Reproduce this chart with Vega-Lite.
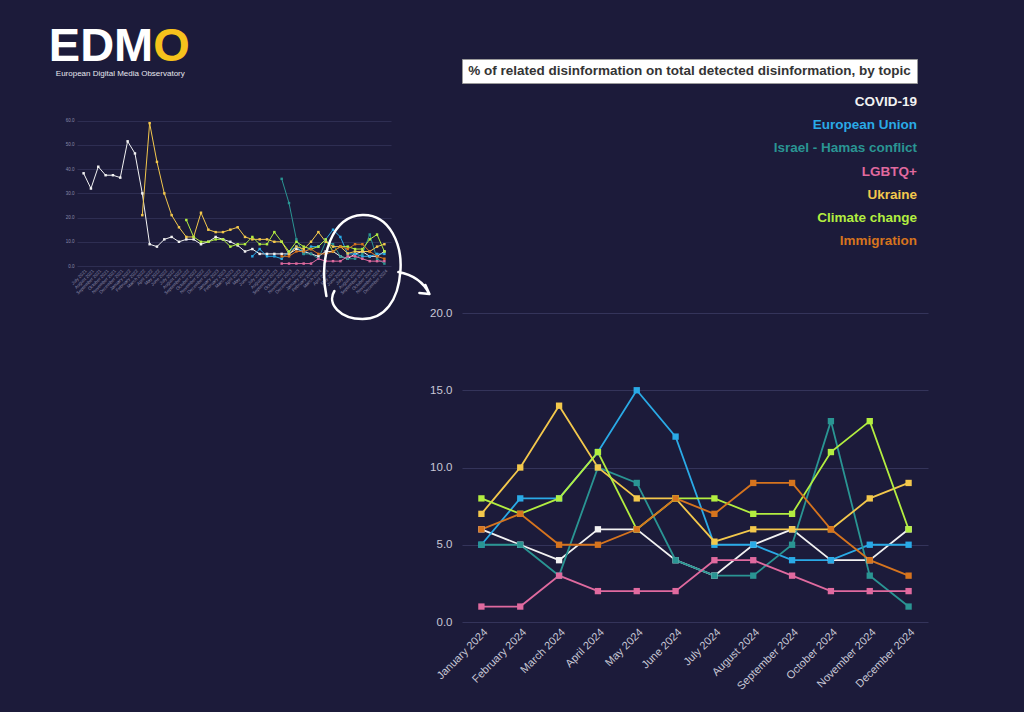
{
  "$schema": "https://vega.github.io/schema/vega-lite/v6.json",
  "background": "#1c1b3a",
  "padding": {"left": 48, "top": 22, "right": 96, "bottom": 23},
  "autosize": {"type": "pad"},
  "datasets": {
    "series": [
      {"topic":"COVID-19","month":"July 2021","value":38.3},
      {"topic":"COVID-19","month":"August 2021","value":32},
      {"topic":"COVID-19","month":"September 2021","value":41},
      {"topic":"COVID-19","month":"October 2021","value":37.5},
      {"topic":"COVID-19","month":"November 2021","value":37.5},
      {"topic":"COVID-19","month":"December 2021","value":36.5},
      {"topic":"COVID-19","month":"January 2022","value":51.5},
      {"topic":"COVID-19","month":"February 2022","value":46.5},
      {"topic":"COVID-19","month":"March 2022","value":30},
      {"topic":"COVID-19","month":"April 2022","value":9},
      {"topic":"COVID-19","month":"May 2022","value":8},
      {"topic":"COVID-19","month":"June 2022","value":11},
      {"topic":"COVID-19","month":"July 2022","value":12},
      {"topic":"COVID-19","month":"August 2022","value":10},
      {"topic":"COVID-19","month":"September 2022","value":11},
      {"topic":"COVID-19","month":"October 2022","value":11},
      {"topic":"COVID-19","month":"November 2022","value":9},
      {"topic":"COVID-19","month":"December 2022","value":10},
      {"topic":"COVID-19","month":"January 2023","value":12},
      {"topic":"COVID-19","month":"February 2023","value":11},
      {"topic":"COVID-19","month":"March 2023","value":10},
      {"topic":"COVID-19","month":"April 2023","value":8.5},
      {"topic":"COVID-19","month":"May 2023","value":6},
      {"topic":"COVID-19","month":"June 2023","value":7},
      {"topic":"COVID-19","month":"July 2023","value":5},
      {"topic":"COVID-19","month":"August 2023","value":5},
      {"topic":"COVID-19","month":"September 2023","value":5},
      {"topic":"COVID-19","month":"October 2023","value":5},
      {"topic":"COVID-19","month":"November 2023","value":5},
      {"topic":"COVID-19","month":"December 2023","value":7},
      {"topic":"COVID-19","month":"January 2024","value":6},
      {"topic":"COVID-19","month":"February 2024","value":5},
      {"topic":"COVID-19","month":"March 2024","value":4},
      {"topic":"COVID-19","month":"April 2024","value":6},
      {"topic":"COVID-19","month":"May 2024","value":6},
      {"topic":"COVID-19","month":"June 2024","value":4},
      {"topic":"COVID-19","month":"July 2024","value":3},
      {"topic":"COVID-19","month":"August 2024","value":5},
      {"topic":"COVID-19","month":"September 2024","value":6},
      {"topic":"COVID-19","month":"October 2024","value":4},
      {"topic":"COVID-19","month":"November 2024","value":4},
      {"topic":"COVID-19","month":"December 2024","value":6},

      {"topic":"European Union","month":"June 2023","value":4},
      {"topic":"European Union","month":"July 2023","value":7},
      {"topic":"European Union","month":"August 2023","value":4},
      {"topic":"European Union","month":"September 2023","value":4},
      {"topic":"European Union","month":"October 2023","value":3},
      {"topic":"European Union","month":"November 2023","value":6},
      {"topic":"European Union","month":"December 2023","value":8},
      {"topic":"European Union","month":"January 2024","value":5},
      {"topic":"European Union","month":"February 2024","value":8},
      {"topic":"European Union","month":"March 2024","value":8},
      {"topic":"European Union","month":"April 2024","value":11},
      {"topic":"European Union","month":"May 2024","value":15},
      {"topic":"European Union","month":"June 2024","value":12},
      {"topic":"European Union","month":"July 2024","value":5},
      {"topic":"European Union","month":"August 2024","value":5},
      {"topic":"European Union","month":"September 2024","value":4},
      {"topic":"European Union","month":"October 2024","value":4},
      {"topic":"European Union","month":"November 2024","value":5},
      {"topic":"European Union","month":"December 2024","value":5},

      {"topic":"Israel - Hamas conflict","month":"October 2023","value":36},
      {"topic":"Israel - Hamas conflict","month":"November 2023","value":26},
      {"topic":"Israel - Hamas conflict","month":"December 2023","value":11},
      {"topic":"Israel - Hamas conflict","month":"January 2024","value":5},
      {"topic":"Israel - Hamas conflict","month":"February 2024","value":5},
      {"topic":"Israel - Hamas conflict","month":"March 2024","value":3},
      {"topic":"Israel - Hamas conflict","month":"April 2024","value":10},
      {"topic":"Israel - Hamas conflict","month":"May 2024","value":9},
      {"topic":"Israel - Hamas conflict","month":"June 2024","value":4},
      {"topic":"Israel - Hamas conflict","month":"July 2024","value":3},
      {"topic":"Israel - Hamas conflict","month":"August 2024","value":3},
      {"topic":"Israel - Hamas conflict","month":"September 2024","value":5},
      {"topic":"Israel - Hamas conflict","month":"October 2024","value":13},
      {"topic":"Israel - Hamas conflict","month":"November 2024","value":3},
      {"topic":"Israel - Hamas conflict","month":"December 2024","value":1},

      {"topic":"LGBTQ+","month":"October 2023","value":1},
      {"topic":"LGBTQ+","month":"November 2023","value":1},
      {"topic":"LGBTQ+","month":"December 2023","value":1},
      {"topic":"LGBTQ+","month":"January 2024","value":1},
      {"topic":"LGBTQ+","month":"February 2024","value":1},
      {"topic":"LGBTQ+","month":"March 2024","value":3},
      {"topic":"LGBTQ+","month":"April 2024","value":2},
      {"topic":"LGBTQ+","month":"May 2024","value":2},
      {"topic":"LGBTQ+","month":"June 2024","value":2},
      {"topic":"LGBTQ+","month":"July 2024","value":4},
      {"topic":"LGBTQ+","month":"August 2024","value":4},
      {"topic":"LGBTQ+","month":"September 2024","value":3},
      {"topic":"LGBTQ+","month":"October 2024","value":2},
      {"topic":"LGBTQ+","month":"November 2024","value":2},
      {"topic":"LGBTQ+","month":"December 2024","value":2},

      {"topic":"Ukraine","month":"March 2022","value":21},
      {"topic":"Ukraine","month":"April 2022","value":59},
      {"topic":"Ukraine","month":"May 2022","value":43},
      {"topic":"Ukraine","month":"June 2022","value":30},
      {"topic":"Ukraine","month":"July 2022","value":21},
      {"topic":"Ukraine","month":"August 2022","value":16},
      {"topic":"Ukraine","month":"September 2022","value":12},
      {"topic":"Ukraine","month":"October 2022","value":12},
      {"topic":"Ukraine","month":"November 2022","value":22},
      {"topic":"Ukraine","month":"December 2022","value":15},
      {"topic":"Ukraine","month":"January 2023","value":14},
      {"topic":"Ukraine","month":"February 2023","value":14},
      {"topic":"Ukraine","month":"March 2023","value":15},
      {"topic":"Ukraine","month":"April 2023","value":16},
      {"topic":"Ukraine","month":"May 2023","value":12},
      {"topic":"Ukraine","month":"June 2023","value":11},
      {"topic":"Ukraine","month":"July 2023","value":11},
      {"topic":"Ukraine","month":"August 2023","value":11},
      {"topic":"Ukraine","month":"September 2023","value":10},
      {"topic":"Ukraine","month":"October 2023","value":10},
      {"topic":"Ukraine","month":"November 2023","value":5},
      {"topic":"Ukraine","month":"December 2023","value":8},
      {"topic":"Ukraine","month":"January 2024","value":7},
      {"topic":"Ukraine","month":"February 2024","value":10},
      {"topic":"Ukraine","month":"March 2024","value":14},
      {"topic":"Ukraine","month":"April 2024","value":10},
      {"topic":"Ukraine","month":"May 2024","value":8},
      {"topic":"Ukraine","month":"June 2024","value":8},
      {"topic":"Ukraine","month":"July 2024","value":5.2},
      {"topic":"Ukraine","month":"August 2024","value":6},
      {"topic":"Ukraine","month":"September 2024","value":6},
      {"topic":"Ukraine","month":"October 2024","value":6},
      {"topic":"Ukraine","month":"November 2024","value":8},
      {"topic":"Ukraine","month":"December 2024","value":9},

      {"topic":"Climate change","month":"September 2022","value":19},
      {"topic":"Climate change","month":"October 2022","value":12},
      {"topic":"Climate change","month":"November 2022","value":10},
      {"topic":"Climate change","month":"December 2022","value":10},
      {"topic":"Climate change","month":"January 2023","value":11},
      {"topic":"Climate change","month":"February 2023","value":11},
      {"topic":"Climate change","month":"March 2023","value":8},
      {"topic":"Climate change","month":"April 2023","value":9},
      {"topic":"Climate change","month":"May 2023","value":9},
      {"topic":"Climate change","month":"June 2023","value":12},
      {"topic":"Climate change","month":"July 2023","value":9},
      {"topic":"Climate change","month":"August 2023","value":9},
      {"topic":"Climate change","month":"September 2023","value":14},
      {"topic":"Climate change","month":"October 2023","value":10},
      {"topic":"Climate change","month":"November 2023","value":6},
      {"topic":"Climate change","month":"December 2023","value":10},
      {"topic":"Climate change","month":"January 2024","value":8},
      {"topic":"Climate change","month":"February 2024","value":7},
      {"topic":"Climate change","month":"March 2024","value":8},
      {"topic":"Climate change","month":"April 2024","value":11},
      {"topic":"Climate change","month":"May 2024","value":6},
      {"topic":"Climate change","month":"June 2024","value":8},
      {"topic":"Climate change","month":"July 2024","value":8},
      {"topic":"Climate change","month":"August 2024","value":7},
      {"topic":"Climate change","month":"September 2024","value":7},
      {"topic":"Climate change","month":"October 2024","value":11},
      {"topic":"Climate change","month":"November 2024","value":13},
      {"topic":"Climate change","month":"December 2024","value":6},

      {"topic":"Immigration","month":"October 2023","value":4},
      {"topic":"Immigration","month":"November 2023","value":4},
      {"topic":"Immigration","month":"December 2023","value":6},
      {"topic":"Immigration","month":"January 2024","value":6},
      {"topic":"Immigration","month":"February 2024","value":7},
      {"topic":"Immigration","month":"March 2024","value":5},
      {"topic":"Immigration","month":"April 2024","value":5},
      {"topic":"Immigration","month":"May 2024","value":6},
      {"topic":"Immigration","month":"June 2024","value":8},
      {"topic":"Immigration","month":"July 2024","value":7},
      {"topic":"Immigration","month":"August 2024","value":9},
      {"topic":"Immigration","month":"September 2024","value":9},
      {"topic":"Immigration","month":"October 2024","value":6},
      {"topic":"Immigration","month":"November 2024","value":4},
      {"topic":"Immigration","month":"December 2024","value":3}
    ]
  },
  "spacing": 71,
  "bounds": "flush",
  "hconcat": [
    {
      "width": 314,
      "height": 207,
      "encoding": {
        "x": {"field": "month", "type": "ordinal", "title": null,
          "sort": ["July 2021","August 2021","September 2021","October 2021","November 2021","December 2021","January 2022","February 2022","March 2022","April 2022","May 2022","June 2022","July 2022","August 2022","September 2022","October 2022","November 2022","December 2022","January 2023","February 2023","March 2023","April 2023","May 2023","June 2023","July 2023","August 2023","September 2023","October 2023","November 2023","December 2023","January 2024","February 2024","March 2024","April 2024","May 2024","June 2024","July 2024","August 2024","September 2024","October 2024","November 2024","December 2024"],
          "scale": {"type": "point", "padding": 0.9},
          "axis": {"labelAngle": -45, "labelFontSize": 4.5, "labelColor": "#8a8aa8", "labelOverlap": false, "domain": false, "ticks": false, "labelPadding": 2, "grid": false}},
        "y": {"field": "value", "type": "quantitative", "title": null,
          "scale": {"domain": [0, 85.5], "nice": false},
          "axis": {"values": [0, 10, 20, 30, 40, 50, 60], "format": ".1f", "labelFontSize": 4.5, "labelColor": "#8a8aa8", "domain": false, "ticks": false, "labelPadding": 3, "gridColor": "#2e2e52"}}
      },
      "layer": [
        {
          "data": {"name": "series"},
          "mark": {"type": "line", "strokeWidth": 1, "point": {"shape": "square", "size": 6, "filled": true, "opacity": 1}},
          "encoding": {
            "color": {"field": "topic", "type": "nominal", "legend": null,
              "scale": {"domain": ["COVID-19","European Union","Israel - Hamas conflict","LGBTQ+","Ukraine","Climate change","Immigration"], "range": ["#f2f2f2","#2aaae6","#2a9593","#e06a9f","#f3c84c","#b3ee40","#d6741e"]}}
          }
        },
        {
          "data": {"values": [{"month": "September 2024", "value": 0}]},
          "mark": {"type": "point", "shape": "M -36 30 C -44 -10 -30 -50 0 -51 C 28 -52 40 -20 38 5 C 36 35 22 53 0 53 C -22 53 -36 38 -28 25 M 36 6 Q 58 10 67 28 M 63 19 L 67 28 L 57 27", "size": 4, "filled": false, "stroke": "#ffffff", "strokeWidth": 2.5, "opacity": 1, "strokeCap": "round", "strokeJoin": "round"}
        },
        {
          "data": {"values": [{"month": "December 2021", "value": 84.7}]},
          "mark": {"type": "text", "text": "EDM", "align": "right", "baseline": "alphabetic", "dx": 33, "fontSize": 47, "fontWeight": "bold", "font": "Liberation Sans", "color": "#ffffff"}
        },
        {
          "data": {"values": [{"month": "December 2021", "value": 84.7}]},
          "mark": {"type": "text", "text": "O", "align": "left", "baseline": "alphabetic", "dx": 33, "fontSize": 47, "fontWeight": "bold", "font": "Liberation Sans", "color": "#f6c21c"}
        },
        {
          "data": {"values": [{"month": "December 2021", "value": 78.5}]},
          "mark": {"type": "text", "text": "European Digital Media Observatory", "align": "center", "baseline": "alphabetic", "fontSize": 8, "font": "Liberation Sans", "color": "#e6e6ee"}
        }
      ]
    },
    {
      "spacing": 5,
      "bounds": "flush",
      "vconcat": [
        {
          "width": 455,
          "height": 24,
          "view": {"fill": "#ffffff", "stroke": "#9a9a9a", "strokeWidth": 1},
          "data": {"values": [{"label": "% of related disinformation on total detected disinformation, by topic"}]},
          "mark": {"type": "text", "fontWeight": "bold", "fontSize": 13.5, "font": "Liberation Sans", "color": "#343434", "baseline": "middle"},
          "encoding": {"text": {"field": "label"}}
        },
        {
          "width": 455,
          "height": 220,
          "data": {"values": [{"topic": "COVID-19", "rank": 1}, {"topic": "European Union", "rank": 2}, {"topic": "Israel - Hamas conflict", "rank": 3}, {"topic": "LGBTQ+", "rank": 4}, {"topic": "Ukraine", "rank": 5}, {"topic": "Climate change", "rank": 6}, {"topic": "Immigration", "rank": 7}]},
          "mark": {"type": "text", "x": "width", "align": "right", "baseline": "middle", "fontWeight": "bold", "fontSize": 13.5, "font": "Liberation Sans"},
          "encoding": {
            "y": {"field": "rank", "type": "quantitative", "scale": {"domain": [0.396, 9.891], "nice": false, "zero": false, "reverse": true}, "axis": null},
            "text": {"field": "topic"},
            "color": {"field": "topic", "type": "nominal", "legend": null,
              "scale": {"domain": ["COVID-19","European Union","Israel - Hamas conflict","LGBTQ+","Ukraine","Climate change","Immigration"], "range": ["#f2f2f2","#2aaae6","#2a9593","#e06a9f","#f3c84c","#b3ee40","#d6741e"]}}
          }
        },
        {
          "width": 466,
          "height": 309,
          "data": {"name": "series"},
          "transform": [{"filter": "indexof(datum.month, '2024') >= 0"}],
          "mark": {"type": "line", "strokeWidth": 1.8, "point": {"shape": "square", "size": 40, "filled": true, "opacity": 1}},
          "encoding": {
            "x": {"field": "month", "type": "ordinal", "title": null,
              "sort": ["January 2024","February 2024","March 2024","April 2024","May 2024","June 2024","July 2024","August 2024","September 2024","October 2024","November 2024","December 2024"],
              "scale": {"type": "point", "padding": 0.5},
              "axis": {"labelAngle": -45, "labelFontSize": 11, "labelColor": "#c8c8d6", "labelOverlap": false, "domain": false, "ticks": false, "labelPadding": 4, "grid": false}},
            "y": {"field": "value", "type": "quantitative", "title": null,
              "scale": {"domain": [0, 20]},
              "axis": {"values": [0, 5, 10, 15, 20], "format": ".1f", "labelFontSize": 11.5, "labelColor": "#c8c8d6", "domain": false, "ticks": false, "labelPadding": 10, "gridColor": "#34345a"}},
            "color": {"field": "topic", "type": "nominal", "legend": null,
              "scale": {"domain": ["COVID-19","European Union","Israel - Hamas conflict","LGBTQ+","Ukraine","Climate change","Immigration"], "range": ["#f2f2f2","#2aaae6","#2a9593","#e06a9f","#f3c84c","#b3ee40","#d6741e"]}}
          }
        }
      ]
    }
  ],
  "config": {
    "view": {"stroke": null},
    "font": "Liberation Sans",
    "axis": {"labelFont": "Liberation Sans"}
  }
}
